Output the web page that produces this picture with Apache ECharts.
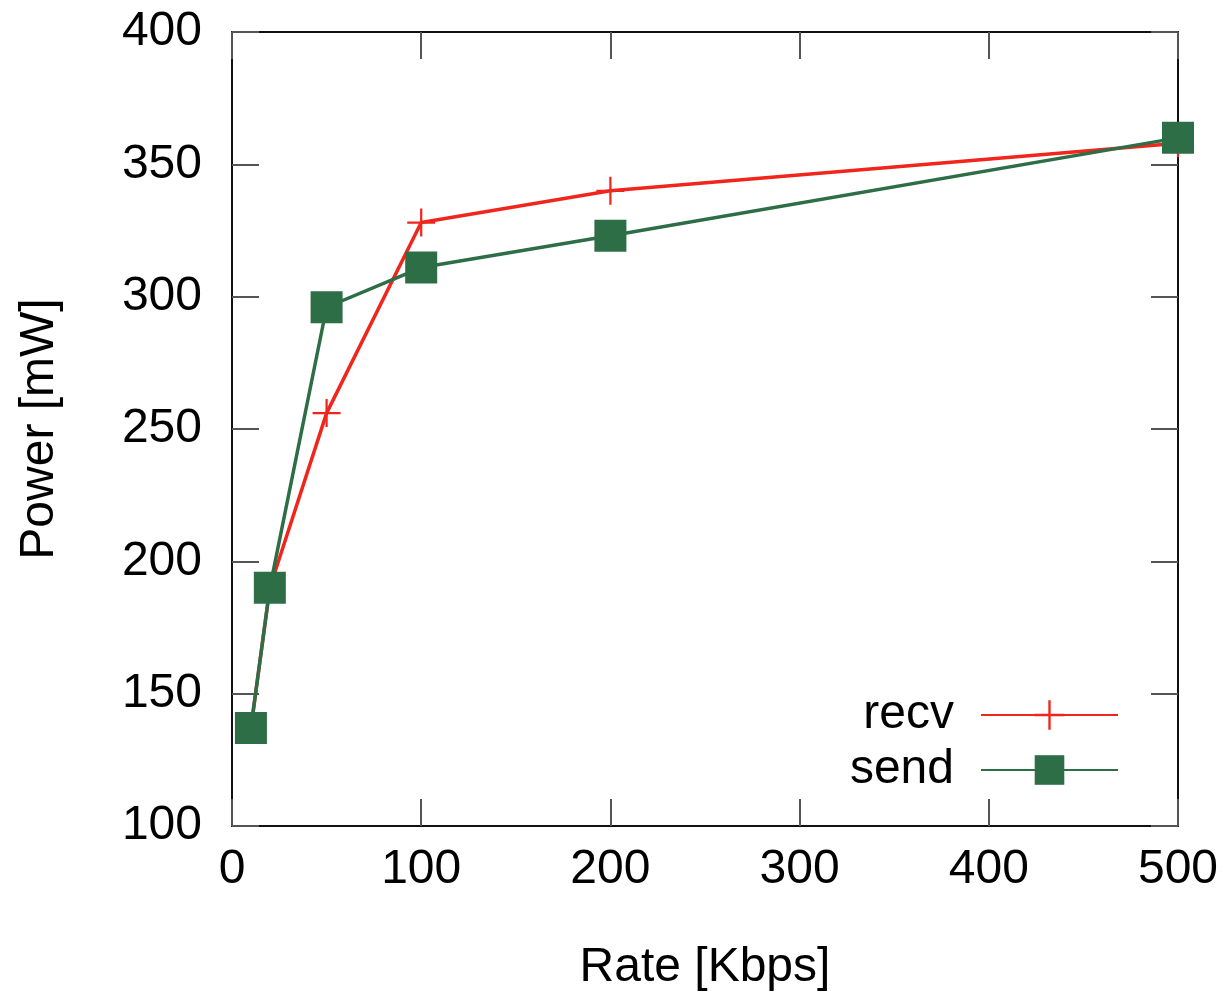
<!DOCTYPE html>
<html>
<head>
<meta charset="utf-8">
<script src="https://cdn.jsdelivr.net/npm/echarts@6/dist/echarts.min.js"></script>
<style>
  html, body { margin: 0; padding: 0; background: #fff; }
  #main { width: 1222px; height: 999px; }
</style>
</head>
<body>
<div id="main"></div>
<script>
// data
var rates = [10, 20, 50, 100, 200, 500];
var recvPower = [137, 190, 256, 328, 340, 358];
var sendPower = [137, 190, 296, 311, 323, 360];
var xTicks = [0, 100, 200, 300, 400, 500];
var yTicks = [100, 150, 200, 250, 300, 350, 400];

var font = 'Liberation Sans';
var plus = 'path://M0,9.2H20V10.8H0Z M9.2,0H10.8V20H9.2Z';

function pairs(xs, ys) {
  return xs.map(function (x, i) { return [x, ys[i]]; });
}

var chart = echarts.init(document.getElementById('main'));

var tickStyle = { show: true, inside: true, length: 27, lineStyle: { color: '#555', width: 2 } };
var lineStyle = { show: true, onZero: false, lineStyle: { color: '#111', width: 2 } };

var opt = {
  backgroundColor: '#fff',
  animation: false,
  grid: { left: 232, right: 44, top: 32, bottom: 173 },
  legend: {
    orient: 'vertical',
    align: 'right',
    right: 98,
    top: 686,
    itemWidth: 137,
    itemHeight: 37,
    itemGap: 7,
    textStyle: { fontFamily: font, fontSize: 48, color: '#000', padding: [0, 22, 0, 0] },
    data: ['recv', 'send']
  },
  xAxis: [{
    type: 'value',
    min: xTicks[0], max: xTicks[xTicks.length - 1], interval: 100,
    name: 'Rate [Kbps]', nameLocation: 'middle', nameGap: 118,
    nameTextStyle: { fontFamily: font, fontSize: 48, color: '#000' },
    axisLine: lineStyle, axisTick: tickStyle,
    axisLabel: { fontFamily: font, fontSize: 48, color: '#000', margin: 20 },
    splitLine: { show: false }
  }, {
    type: 'value', position: 'top',
    min: xTicks[0], max: xTicks[xTicks.length - 1], interval: 100,
    axisLine: lineStyle, axisTick: tickStyle,
    axisLabel: { show: false }, splitLine: { show: false }
  }],
  yAxis: [{
    type: 'value',
    min: yTicks[0], max: yTicks[yTicks.length - 1], interval: 50,
    name: 'Power [mW]', nameLocation: 'middle', nameGap: 168,
    nameTextStyle: { fontFamily: font, fontSize: 48, color: '#000' },
    axisLine: lineStyle, axisTick: tickStyle,
    axisLabel: { fontFamily: font, fontSize: 48, color: '#000', margin: 30 },
    splitLine: { show: false }
  }, {
    type: 'value', position: 'right',
    min: yTicks[0], max: yTicks[yTicks.length - 1], interval: 50,
    axisLine: lineStyle, axisTick: tickStyle,
    axisLabel: { show: false }, splitLine: { show: false }
  }],
  series: [{
    name: 'recv',
    type: 'line',
    data: pairs(rates, recvPower),
    symbol: plus,
    symbolSize: 28,
    showAllSymbol: true,
    itemStyle: { color: '#f0261c' },
    lineStyle: { color: '#f0261c', width: 3.5 },
    z: 2
  }, {
    name: 'send',
    type: 'line',
    data: pairs(rates, sendPower),
    symbol: 'rect',
    symbolSize: 32,
    showAllSymbol: true,
    itemStyle: { color: '#2d6e47' },
    lineStyle: { color: '#2d6e47', width: 3.5 },
    z: 3
  }]
};

chart.setOption(opt);
</script>
</body>
</html>
